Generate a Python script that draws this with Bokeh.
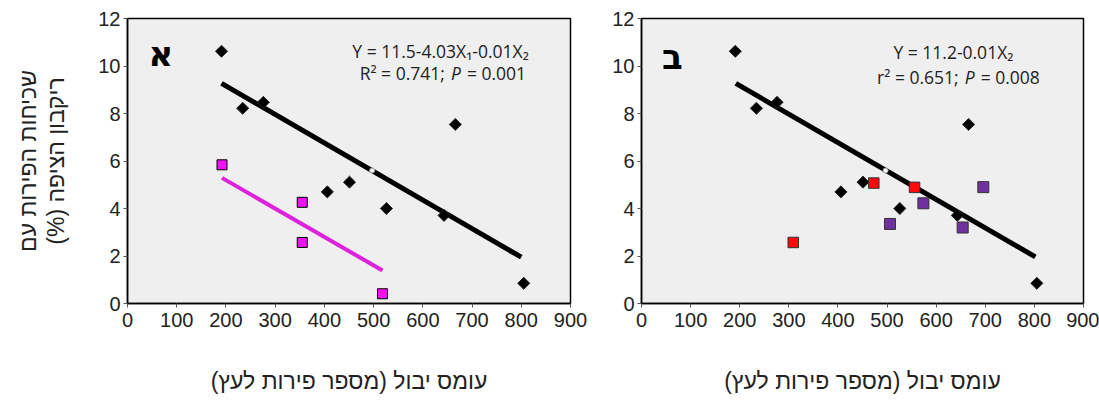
from bokeh.plotting import figure
from bokeh.layouts import row
from bokeh.models import Label, FixedTicker
from bokeh.embed import file_html
from bokeh.resources import INLINE

# ---- data ----
trees_x = [191, 234, 276, 406, 451, 526, 643, 666, 805]
trees_y = [10.62, 8.22, 8.47, 4.70, 5.11, 4.00, 3.71, 7.54, 0.85]

magenta_x = [192, 355, 355, 518]
magenta_y = [5.84, 4.26, 2.57, 0.41]

red_x = [309, 473, 556]
red_y = [2.57, 5.07, 4.89]

purple_x = [506, 574, 654, 696]
purple_y = [3.35, 4.22, 3.20, 4.90]

fit_black_left_x = [191, 800]
fit_black_left_y = [9.27, 1.95]
fit_magenta_x = [192, 518]
fit_magenta_y = [5.29, 1.39]
fit_black_right_x = [192, 802]
fit_black_right_y = [9.27, 1.96]

mean_x = [497]
mean_y = [5.6]

x_ticks = [0, 100, 200, 300, 400, 500, 600, 700, 800, 900]
y_ticks = [0, 2, 4, 6, 8, 10, 12]

RLM = "\u200f"
x_title = RLM + "עומס יבול (מספר פירות לעץ)" + RLM
y_title = RLM + "שכיחות הפירות עם" + RLM + "\n" + RLM + "ריקבון הציפה (%)" + RLM

eq_left_1 = "Y = 11.5-4.03X₁-0.01X₂"
eq_left_2a, eq_left_2b = "R² = 0.741;", "= 0.001"
eq_right_1 = "Y = 11.2-0.01X₂"
eq_right_2a, eq_right_2b = "r² = 0.651;", "= 0.008"

FONT = "Liberation Sans"
EQFONT = "Open Sans"
BG = "#efefef"


def make_fig(width, border_left, border_right, with_ylabel):
    p = figure(width=width, height=400, x_range=(0, 900), y_range=(0, 12),
               output_backend="svg", toolbar_location=None,
               min_border_left=border_left, min_border_right=border_right,
               min_border_top=18, min_border_bottom=97)
    p.background_fill_color = BG
    p.border_fill_color = "white"
    p.outline_line_color = "black"
    p.outline_line_width = 1.5
    p.grid.visible = False
    for ax in (p.xaxis[0], p.yaxis[0]):
        ax.axis_line_color = "black"
        ax.axis_line_width = 1.5
        ax.major_tick_line_color = "#555555"
        ax.major_tick_out = 4
        ax.major_tick_in = 0
        ax.minor_tick_line_color = None
        ax.major_label_text_font = FONT
        ax.major_label_text_font_size = "20px"
        ax.major_label_text_color = "#222222"
    p.xaxis.ticker = FixedTicker(ticks=x_ticks)
    p.yaxis.ticker = FixedTicker(ticks=y_ticks)
    p.xaxis.major_label_standoff = 5
    p.yaxis.major_label_standoff = 3
    p.xaxis.axis_label = x_title
    p.xaxis.axis_label_text_font = FONT
    p.xaxis.axis_label_text_font_style = "normal"
    p.xaxis.axis_label_text_font_size = "23px"
    p.xaxis.axis_label_standoff = 38
    p.xaxis.axis_label_text_color = "#222222"
    if with_ylabel:
        p.yaxis.axis_label = y_title
        p.yaxis.axis_label_text_font = FONT
        p.yaxis.axis_label_text_font_style = "normal"
        p.yaxis.axis_label_text_font_size = "23px"
        p.yaxis.axis_label_standoff = 26
        p.yaxis.axis_label_text_color = "#222222"
        p.yaxis.axis_label_text_line_height = 1.1
    return p


def add_eq(p, line1, l2a, l2b, cx, y1, ax_, y2):
    p.add_layout(Label(x=cx, y=y1, text=line1, text_align="center",
                       text_baseline="middle", text_font=EQFONT,
                       text_font_size="17.5px", text_color="#222222"))
    p.add_layout(Label(x=ax_, y=y2, text=l2a, text_align="right", x_offset=-6,
                       text_baseline="middle", text_font=EQFONT,
                       text_font_size="17.5px", text_color="#222222"))
    p.add_layout(Label(x=ax_, y=y2, text="P", text_align="left",
                       text_baseline="middle", text_font=EQFONT,
                       text_font_style="italic",
                       text_font_size="17.5px", text_color="#222222"))
    p.add_layout(Label(x=ax_, y=y2, text=l2b, text_align="left", x_offset=16,
                       text_baseline="middle", text_font=EQFONT,
                       text_font_size="17.5px", text_color="#222222"))


def add_letter(p, letter, x, y):
    p.add_layout(Label(x=x, y=y, text=letter, text_align="center",
                       text_baseline="middle", text_font="DejaVu Sans",
                       text_font_style="bold", text_font_size="34px",
                       text_color="black"))


# ---------------- left panel ----------------
p1 = make_fig(590, 127, 20, True)
p1.line(fit_black_left_x, fit_black_left_y, line_color="black", line_width=5)
p1.line(fit_magenta_x, fit_magenta_y, line_color="#dd22dd", line_width=4)
p1.scatter(trees_x, trees_y, marker="square", size=8.5, angle=0.785398,
           fill_color="black", line_color="#222222")
p1.scatter(magenta_x, magenta_y, marker="square", size=10, fill_color="#f012f0",
           line_color="black", line_width=1)
p1.scatter(mean_x, mean_y, marker="circle", size=5, fill_color="white",
           line_color="#999999", line_width=1)
add_eq(p1, eq_left_1, eq_left_2a, eq_left_2b, 636, 10.65, 657, 9.7)
add_letter(p1, "א", 68, 10.5)

# ---------------- right panel ----------------
p2 = make_fig(509, 51, 16, False)
p2.line(fit_black_right_x, fit_black_right_y, line_color="black", line_width=5)
p2.scatter(trees_x, trees_y, marker="square", size=8.5, angle=0.785398,
           fill_color="black", line_color="#222222")
p2.scatter(red_x, red_y, marker="square", size=10.5, fill_color="#ff0a0a",
           line_color="#333333", line_width=1)
p2.scatter(purple_x, purple_y, marker="square", size=11, fill_color="#7030a0",
           line_color="#333333", line_width=1)
p2.scatter(mean_x, mean_y, marker="circle", size=5, fill_color="white",
           line_color="#999999", line_width=1)
add_eq(p2, eq_right_1, eq_right_2a, eq_right_2b, 635, 10.6, 658, 9.55)
add_letter(p2, "ב", 63, 10.4)

layout = row(p1, p2)
open("out.html", "w").write(file_html(layout, INLINE))
